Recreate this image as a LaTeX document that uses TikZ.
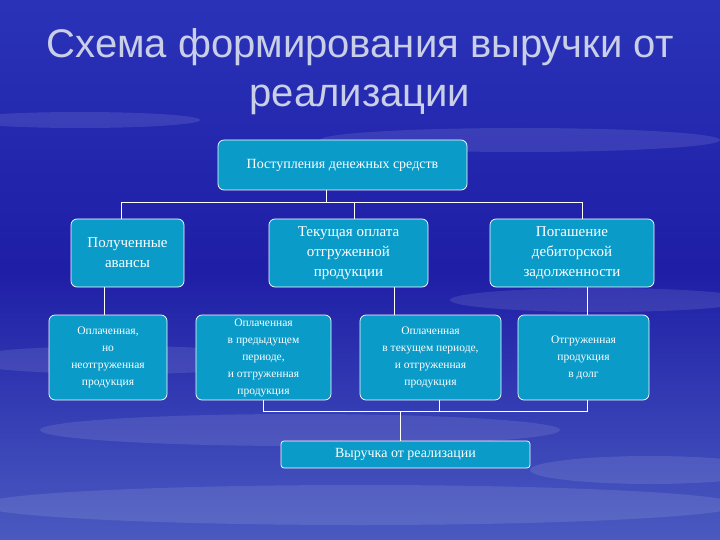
\documentclass[tikz,border=0pt]{standalone}
\usepackage{fontspec}
\setmainfont{Liberation Serif}
\newfontfamily\titlefont{Liberation Sans}
\definecolor{boxc}{HTML}{0A9BC9}
\definecolor{bgtop}{HTML}{2A33B8}
\definecolor{bgmid}{HTML}{1E1EA6}
\definecolor{bgbot}{HTML}{4A5AC0}
\definecolor{titlec}{HTML}{C9CFE6}
\tikzset{
  bx/.style={draw=white, line width=0.7pt, fill=boxc, rounded corners=6pt, text=white, align=center, inner sep=1pt},
  ln/.style={draw=white, line width=0.8pt},
  cloud/.style={fill=white, opacity=0.10}
}
\begin{document}
\begin{tikzpicture}[x=1pt,y=-1pt]
\useasboundingbox (0,0) rectangle (720,540);
\shade[top color=bgtop, bottom color=bgbot, middle color=bgmid] (0,0) rectangle (720,540);
\fill[cloud] (520,140) ellipse (200 and 12);
\fill[cloud] (80,120) ellipse (120 and 8);
\fill[cloud] (600,300) ellipse (150 and 12);
\fill[cloud] (120,360) ellipse (160 and 14);
\fill[cloud] (300,430) ellipse (260 and 16);
\fill[cloud] (360,505) ellipse (380 and 20);
\fill[cloud] (650,470) ellipse (120 and 14);
% title
\node (title) [text=titlec, font=\titlefont\fontsize{40}{49}\selectfont, align=center] at (360,72) {Схема формирования выручки от\\реализации};
% boxes
\node (top) [bx, minimum width=249pt, minimum height=50pt, font=\fontsize{14}{17}\selectfont] at (342.5,165) {Поступления денежных средств};
\node (a) [bx, minimum width=113pt, minimum height=68pt, font=\fontsize{15}{20}\selectfont] at (127.5,253) {Полученные\\авансы};
\node (b) [bx, minimum width=159pt, minimum height=68pt, font=\fontsize{15}{20}\selectfont] at (348.5,253) {Текущая оплата\\отгруженной\\продукции};
\node (c) [bx, minimum width=164pt, minimum height=68pt, font=\fontsize{15}{20}\selectfont] at (572,253) {Погашение\\дебиторской\\задолженности};
\node (d) [bx, minimum width=118pt, minimum height=85pt, font=\fontsize{11.5}{17}\selectfont] at (108,357.5) {Оплаченная,\\но\\неотгруженная\\продукция};
\node (e) [bx, minimum width=135pt, minimum height=85pt, font=\fontsize{11.5}{17}\selectfont] at (263.5,357.5) {Оплаченная\\в предыдущем\\периоде,\\и отгруженная\\продукция};
\node (f) [bx, minimum width=141pt, minimum height=85pt, font=\fontsize{11.5}{17}\selectfont] at (430.5,357.5) {Оплаченная\\в текущем периоде,\\и отгруженная\\продукция};
\node (g) [bx, minimum width=131pt, minimum height=85pt, font=\fontsize{11.5}{17}\selectfont] at (583.5,357.5) {Отгруженная\\продукция\\в долг};
\node (h) [bx, minimum width=249pt, minimum height=27pt, rounded corners=3pt, font=\fontsize{14}{17}\selectfont] at (405.5,454.5) {Выручка от реализации};
% connectors
\coordinate (t1) at (326,202);
\coordinate (tl) at (121,202);
\coordinate (tm) at (354,202);
\coordinate (tr) at (582,202);
\draw[ln] (top.south -| t1) -- (t1);
\draw[ln] (tl) -- (tr);
\draw[ln] (tl) -- (tl |- a.north);
\draw[ln] (tm) -- (tm |- b.north);
\draw[ln] (tr) -- (tr |- c.north);
\draw[ln] (a.south -| 104,0) -- (d.north -| 104,0);
\draw[ln] (b.south -| 394,0) -- (f.north -| 394,0);
\draw[ln] (c.south -| 587,0) -- (g.north -| 587,0);
\coordinate (bl) at (263,411);
\coordinate (bm) at (439,411);
\coordinate (br) at (587,411);
\coordinate (bc) at (400,411);
\draw[ln] (e.south -| bl) -- (bl) -- (br) -- (g.south -| br);
\draw[ln] (f.south -| bm) -- (bm);
\draw[ln] (bc) -- (h.north -| bc);
\end{tikzpicture}
\end{document}
